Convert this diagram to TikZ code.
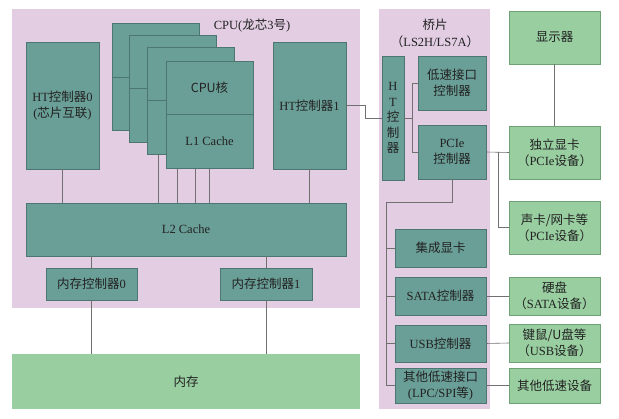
\documentclass[tikz,border=0pt]{standalone}
\usepackage{fontspec}
\setmainfont{Liberation Serif}
\newfontfamily\cjk{Noto Sans CJK SC}
\newcommand{\z}[1]{{\cjk #1}}
\definecolor{pinkbg}{RGB}{226,205,226}
\definecolor{tealfill}{RGB}{106,159,151}
\definecolor{tealedge}{RGB}{78,118,112}
\definecolor{greenfill}{RGB}{152,206,160}
\definecolor{greenedge}{RGB}{112,160,118}
\definecolor{wire}{RGB}{112,112,112}
\definecolor{ink}{RGB}{34,34,34}
\begin{document}
\begin{tikzpicture}[x=1pt,y=-1pt,
  every node/.style={font=\fontsize{12.5}{16}\selectfont, text=ink, align=center, inner sep=0pt, outer sep=0pt},
  pinkbox/.style={fill=pinkbg, draw=none, anchor=north west},
  tealbox/.style={fill=tealfill, draw=tealedge, line width=0.6pt, anchor=north west},
  greenbox/.style={fill=greenfill, draw=greenedge, line width=0.6pt, anchor=north west},
  wirestyle/.style={draw=wire, line width=0.6pt},
  sz/.style 2 args={minimum width=#1, minimum height=#2}]
\useasboundingbox (0,0) rectangle (619,419);
\fill[white] (0,0) rectangle (619,419);

% backgrounds
\node[pinkbox, sz={348}{299}] (cpu) at (12,9) {};
\node (cpulabel) at (252,26) {CPU(\z{龙芯}3\z{号})};
\node[pinkbox, sz={111}{400}] (bridge) at (379,9) {};
\node (bridgelabel) at (435,25) {\z{桥片}};
\node (bridgelabel2) at (435,42) {\z{（}LS2H/LS7A\z{）}};

% core wires (behind cores)
\node[tealbox, sz={320}{53}] (l2) at (26,203) {L2 Cache};
\draw[wirestyle] (158,130) coordinate (w1) -- (w1 |- l2.north);
\draw[wirestyle] (177,142) coordinate (w2) -- (w2 |- l2.north);
\draw[wirestyle] (195,154) coordinate (w3) -- (w3 |- l2.north);
\draw[wirestyle] (209,168) coordinate (w4) -- (w4 |- l2.north);

% stacked cores
\node[tealbox, sz={87}{107}] (c1) at (112,23) {};
\draw[draw=tealedge, line width=0.6pt] (c1.west |- 0,77) -- (c1.east |- 0,77);
\node[tealbox, sz={87}{107}] (c2) at (129,35) {};
\draw[draw=tealedge, line width=0.6pt] (c2.west |- 0,88) -- (c2.east |- 0,88);
\node[tealbox, sz={87}{107}] (c3) at (147,47) {};
\draw[draw=tealedge, line width=0.6pt] (c3.west |- 0,100) -- (c3.east |- 0,100);
\node[tealbox, sz={87}{53}] (core) at (166,61) {\z{CPU核}};
\node[tealbox, sz={87}{54}] (l1) at (166,114) {L1 Cache};

% HT controllers
\node[tealbox, sz={73}{127}] (ht0) at (26,42) {HT\z{控制器}0\\(\z{芯片互联})};
\node[tealbox, sz={73}{127}] (ht1) at (273,42) {HT\z{控制器}1};
\draw[wirestyle] (ht0.south) -- (ht0.south |- l2.north);
\draw[wirestyle] (ht1.south) -- (ht1.south |- l2.north);

% memory controllers
\node[tealbox, sz={91}{32}] (mc0) at (46,268) {\z{内存控制器}0};
\node[tealbox, sz={92}{32}] (mc1) at (220,268) {\z{内存控制器}1};
\node[greenbox, sz={348}{55}, draw=none] (mem) at (12,354) {\z{内存}};
\draw[wirestyle] (mc0.north) -- (mc0.north |- l2.south);
\draw[wirestyle] (mc1.north) -- (mc1.north |- l2.south);
\draw[wirestyle] (mc0.south) -- (mc0.south |- mem.north);
\draw[wirestyle] (mc1.south) -- (mc1.south |- mem.north);

% bridge
\node[tealbox, sz={22}{124}, font=\fontsize{12.5}{15.5}\selectfont] (htb) at (382,56) {H\\T\\\z{控}\\\z{制}\\\z{器}};
\node[tealbox, sz={68}{54}] (low) at (418,56) {\z{低速接口}\\\z{控制器}};
\node[tealbox, sz={68}{54}] (pcie) at (418,125) {PCIe\\\z{控制器}};
\node[tealbox, sz={91}{38}] (igpu) at (395,229) {\z{集成显卡}};
\node[tealbox, sz={91}{38}] (sata) at (395,277) {SATA\z{控制器}};
\node[tealbox, sz={91}{37}] (usb) at (395,325) {USB\z{控制器}};
\node[tealbox, sz={91}{35}] (other) at (395,368) {\z{其他低速接口}\\(LPC/SPI\z{等})};

% devices
\node[greenbox, sz={91}{53}] (disp) at (509,11) {\z{显示器}};
\node[greenbox, sz={91}{53}] (gpu) at (509,126) {\z{独立显卡}\\\z{（}PCIe\z{设备）}};
\node[greenbox, sz={91}{53}] (sound) at (509,201) {\z{声卡/网卡等}\\\z{（}PCIe\z{设备）}};
\node[greenbox, sz={91}{38}] (hdd) at (509,277) {\z{硬盘}\\\z{（}SATA\z{设备）}};
\node[greenbox, sz={91}{38}] (kbd) at (509,324) {\z{键鼠/U盘等}\\\z{（}USB\z{设备）}};
\node[greenbox, sz={91}{35}] (odev) at (509,368) {\z{其他低速设备}};

% connectors
\draw[wirestyle] (ht1.east) -- ++(19,0) |- (htb.west);
\coordinate (hbus) at (412,0 |- htb.east);
\draw[wirestyle] (htb.east) -- (hbus);
\draw[wirestyle] (low.west) -- ++(-6,0) |- (pcie.west);
\draw[wirestyle] (pcie.east) -- (gpu.west);
\coordinate (pbranch) at (498,0 |- pcie.east);
\draw[wirestyle] (pbranch) |- (sound.west);
\draw[wirestyle] (disp.south) -- (gpu.north);
\coordinate (sbus) at (386,202);
\draw[wirestyle] (pcie.south) |- (sbus) -- (sbus |- other.west) -- (other.west);
\draw[wirestyle] (sbus |- igpu.west) -- (igpu.west);
\draw[wirestyle] (sbus |- sata.west) -- (sata.west);
\draw[wirestyle] (sbus |- usb.west) -- (usb.west);
\draw[wirestyle] (sata.east) -- (hdd.west);
\draw[wirestyle] (usb.east) -- (kbd.west);
\draw[wirestyle] (other.east) -- (odev.west);
\end{tikzpicture}
\end{document}
